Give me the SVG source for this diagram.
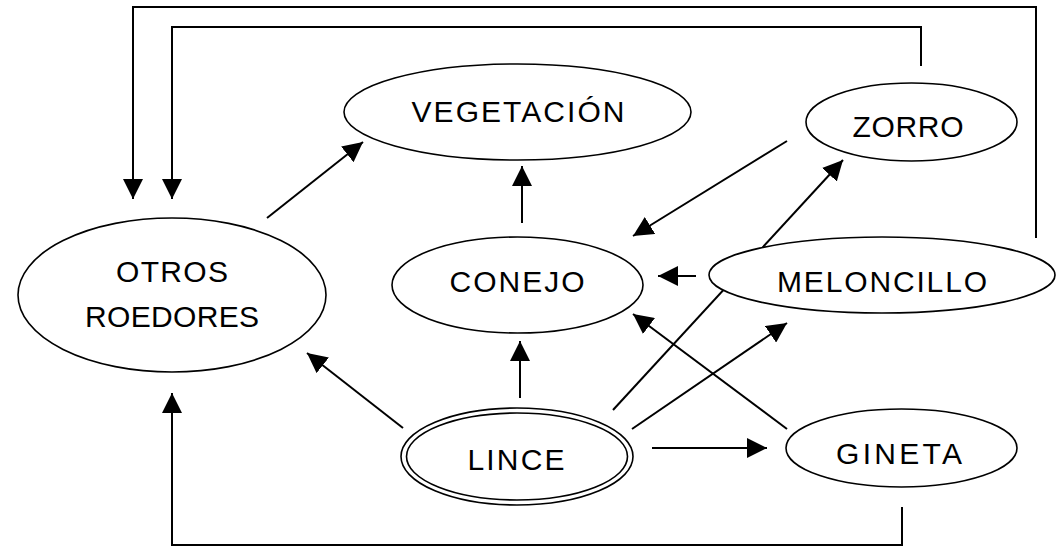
<svg xmlns="http://www.w3.org/2000/svg" width="1062" height="547" viewBox="0 0 1062 547">
<style>
.n{fill:#fff;stroke:#000;stroke-width:1.6}
.c{fill:none;stroke:#000;stroke-width:2}
.a{marker-end:url(#ah)}
text{font-family:"Liberation Sans",Arial,sans-serif;font-size:30px;fill:#000;text-anchor:middle}
</style>
<defs>
<marker id="ah" markerUnits="userSpaceOnUse" markerWidth="20" markerHeight="20" refX="20" refY="10" orient="auto" viewBox="0 0 20 20">
<path d="M0,0 L20,10 L0,20 z" fill="#000"/>
</marker>
</defs>
<rect width="1062" height="547" fill="#fff"/>
<g id="connectors">
<polyline class="c a" points="1036,238 1036,7 133,7 133,199"/>
<polyline class="c a" points="921,66 921,27 172,27 172,199"/>
<polyline class="c a" points="902,507 902,545 172,545 172,393"/>
<line class="c a" x1="267" y1="218" x2="363" y2="142"/>
<line class="c a" x1="522" y1="223" x2="522" y2="166"/>
<line class="c a" x1="520" y1="398" x2="520" y2="341"/>
<line class="c a" x1="696" y1="276" x2="658" y2="276"/>
<line class="c a" x1="787" y1="141" x2="633" y2="236"/>
<line class="c a" x1="613" y1="410" x2="843" y2="160"/>
<line class="c a" x1="632" y1="429" x2="787" y2="323"/>
<line class="c a" x1="787" y1="429" x2="633" y2="314"/>
<line class="c a" x1="652" y1="448" x2="767" y2="448"/>
<line class="c a" x1="403" y1="428" x2="307" y2="353"/>
</g>
<g id="otros">
<ellipse class="n" cx="172" cy="295" rx="154" ry="77"/>
<text x="172" y="282" textLength="112" lengthAdjust="spacing">OTROS</text>
<text x="172" y="327" textLength="174" lengthAdjust="spacing">ROEDORES</text>
</g>
<g id="vegetacion">
<ellipse class="n" cx="517.5" cy="112" rx="173.5" ry="48"/>
<text x="518" y="122" textLength="213" lengthAdjust="spacing">VEGETACIÓN</text>
</g>
<g id="conejo">
<ellipse class="n" cx="517.5" cy="285" rx="125.5" ry="48"/>
<text x="517" y="292" textLength="135" lengthAdjust="spacing">CONEJO</text>
</g>
<g id="zorro">
<ellipse class="n" cx="911.5" cy="122" rx="105.5" ry="39"/>
<text x="908" y="137" textLength="111" lengthAdjust="spacing">ZORRO</text>
</g>
<g id="meloncillo">
<ellipse class="n" cx="882" cy="275" rx="173" ry="38"/>
<text x="882" y="292" textLength="210" lengthAdjust="spacing">MELONCILLO</text>
</g>
<g id="gineta">
<ellipse class="n" cx="901.5" cy="448" rx="115.5" ry="39"/>
<text x="899" y="464" textLength="126" lengthAdjust="spacing">GINETA</text>
</g>
<g id="lince">
<ellipse class="n" cx="517" cy="456.5" rx="116" ry="48.5"/>
<ellipse class="n" cx="517" cy="456.5" rx="110.5" ry="43.5"/>
<text x="516" y="470" textLength="97" lengthAdjust="spacing">LINCE</text>
</g>
</svg>
